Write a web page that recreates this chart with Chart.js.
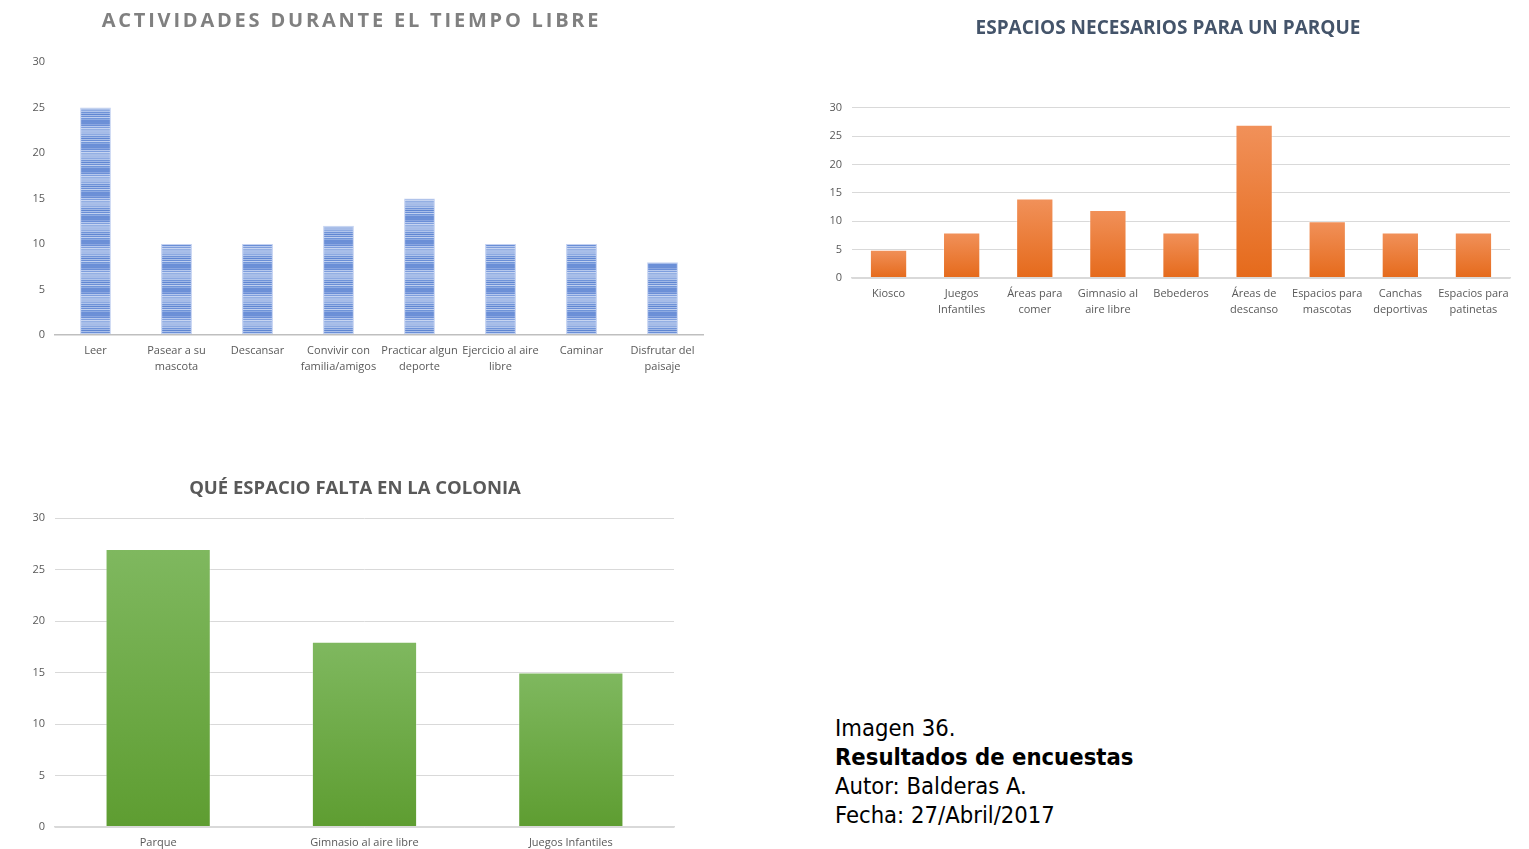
<!DOCTYPE html>
<html>
<head>
<meta charset="utf-8">
<script src="https://cdn.jsdelivr.net/npm/chart.js@4.4.1/dist/chart.umd.min.js"></script>
<style>
  body { margin: 0; background: #fff; width: 1529px; height: 849px; overflow: hidden; position: relative; }
  canvas { position: absolute; }
  #c1 { left: 0; top: 0; }
  #c2 { left: 800px; top: 0; }
  #c3 { left: 0; top: 471px; }
  #caption { position: absolute; left: 835px; top: 714px; font-family: "DejaVu Sans Condensed", "DejaVu Sans", sans-serif; font-size: 23.6px; line-height: 29px; color: #000; }
  #caption b { font-weight: bold; }
</style>
</head>
<body>
<canvas id="c1" width="705" height="400"></canvas>
<canvas id="c2" width="720" height="330"></canvas>
<canvas id="c3" width="690" height="378"></canvas>
<div id="caption">
  Imagen 36.<br>
  <b>Resultados de encuestas</b><br>
  Autor: Balderas A.<br>
  Fecha: 27/Abril/2017
</div>
<script>
// datos de las encuestas
const actividades = ['Leer', ['Pasear a su', 'mascota'], 'Descansar', ['Convivir con', 'familia/amigos'],
  ['Practicar algun', 'deporte'], ['Ejercicio al aire', 'libre'], 'Caminar', ['Disfrutar del', 'paisaje']];
const actividadesVotos = [25, 10, 10, 12, 15, 10, 10, 8];

const espacios = ['Kiosco', ['Juegos', 'Infantiles'], ['Áreas para', 'comer'], ['Gimnasio al', 'aire libre'],
  'Bebederos', ['Áreas de', 'descanso'], ['Espacios para', 'mascotas'], ['Canchas', 'deportivas'], ['Espacios para', 'patinetas']];
const espaciosVotos = [5, 8, 14, 12, 8, 27, 10, 8, 8];

const faltantes = ['Parque', 'Gimnasio al aire libre', 'Juegos Infantiles'];
const faltantesVotos = [27, 18, 15];

const yTicks = [0, 5, 10, 15, 20, 25, 30];

const tickFont = { family: 'Open Sans', size: 11, lineHeight: 1.45 };
const tickColor = '#595959';

// patron de rayas azules
function stripePattern(ctx) {
  const rows = ['#6b8fd7', '#6b8fd7', '#6d91d7', '#6b8fd7', '#8aa6e0', '#6b8fd7', '#b7c9ee', '#7e9edd',
    '#c6d4f1', '#93afe3', '#a7bde8', '#a9bfe9', '#a5bbe7', '#a7bde8', '#8ca9e1', '#b1c5ec',
    '#6f93d8', '#9fb7e6', '#5f86d2', '#a9bfe9', '#6a8ed6', '#c0d0f0', '#7095d9', '#8eabe2'];
  const p = document.createElement('canvas');
  p.width = 4; p.height = rows.length;
  const pc = p.getContext('2d');
  rows.forEach((c, i) => { pc.fillStyle = c; pc.fillRect(0, i, 4, 1); });
  return ctx.createPattern(p, 'repeat');
}

function barGradient(top, bottom) {
  return function (context) {
    const chart = context.chart;
    const y = chart.scales.y;
    if (!chart.chartArea || !y || context.raw == null) return bottom;
    const y0 = y.getPixelForValue(context.raw);
    const y1 = y.getPixelForValue(0);
    const g = chart.ctx.createLinearGradient(0, y0, 0, y1);
    g.addColorStop(0, top);
    g.addColorStop(1, bottom);
    return g;
  };
}

function yScale(width, grid) {
  return {
    min: 0, max: 30,
    afterBuildTicks: s => { s.ticks = yTicks.map(v => ({ value: v })); },
    afterFit: s => { s.width = width; },
    ticks: { color: tickColor, font: { family: 'Open Sans', size: 11 }, padding: 10, z: 1 },
    grid: { display: grid, color: '#d9d9d9', drawTicks: false, z: -1 },
    border: { display: false, z: 1 }
  };
}

function xScale(height, axisColor) {
  return {
    afterFit: s => { s.height = height; },
    ticks: { color: tickColor, font: tickFont, maxRotation: 0, autoSkip: false, padding: 8, z: 1 },
    grid: { display: false, drawTicks: false },
    border: { display: true, color: axisColor, width: 1.5, z: 1 }
  };
}

// espaciado de letras solo para el titulo
const tituloEspaciado = {
  id: 'tituloEspaciado',
  beforeDraw(chart, args, opts) { chart.ctx.letterSpacing = opts.spacing || '0px'; },
  beforeDatasetsDraw(chart) { chart.ctx.letterSpacing = '0px'; },
  afterDraw(chart) { chart.ctx.letterSpacing = '0px'; }
};

Chart.defaults.animation = false;

const c1 = document.getElementById('c1');
new Chart(c1, {
  type: 'bar',
  plugins: [tituloEspaciado],
  data: {
    labels: actividades,
    datasets: [{
      data: actividadesVotos,
      backgroundColor: stripePattern(c1.getContext('2d')),
      borderColor: 'rgba(190,205,240,0.9)',
      borderWidth: 1,
      barPercentage: 0.76,
      categoryPercentage: 0.5
    }]
  },
  options: {
    responsive: false,
    layout: { padding: { left: 0, right: 2, top: 0, bottom: 0 } },
    plugins: {
      legend: { display: false },
      tooltip: { enabled: false },
      tituloEspaciado: { spacing: '2.8px' },
      title: {
        display: true,
        text: 'ACTIVIDADES DURANTE EL TIEMPO LIBRE',
        color: '#808080',
        font: { family: 'Open Sans', size: 20, weight: 'bold' },
        padding: { top: 9, bottom: 29 }
      }
    },
    scales: { x: xScale(65, '#bfbfbf'), y: yScale(55, false) }
  }
});

new Chart(document.getElementById('c2'), {
  type: 'bar',
  data: {
    labels: espacios,
    datasets: [{
      data: espaciosVotos,
      backgroundColor: barGradient('#f1915a', '#e56a1b'),
      borderColor: 'rgba(255,255,255,0.35)',
      borderWidth: 1,
      barPercentage: 1,
      categoryPercentage: 0.51
    }]
  },
  options: {
    responsive: false,
    layout: { padding: { left: 26, right: 10, top: 0, bottom: 0 } },
    plugins: {
      legend: { display: false },
      tooltip: { enabled: false },
      title: {
        display: true,
        text: 'ESPACIOS NECESARIOS PARA UN PARQUE',
        color: '#44546a',
        font: { family: 'Open Sans', size: 19, weight: 'bold' },
        padding: { top: 17, bottom: 68 }
      }
    },
    scales: { x: xScale(52, '#d9d9d9'), y: yScale(26, true) }
  }
});

// eje derecho vacio: solo reserva espacio para centrar el titulo
const ejeVacio = {
  position: 'right', min: 0, max: 30,
  afterFit: s => { s.width = 9; },
  ticks: { display: false },
  grid: { display: false, drawTicks: false },
  border: { display: false }
};

new Chart(document.getElementById('c3'), {
  type: 'bar',
  data: {
    labels: faltantes,
    datasets: [{
      data: faltantesVotos,
      backgroundColor: barGradient('#7fb85f', '#5e9d31'),
      borderColor: 'rgba(255,255,255,0.35)',
      borderWidth: 1,
      barPercentage: 1,
      categoryPercentage: 0.51
    }]
  },
  options: {
    responsive: false,
    layout: { padding: { left: 27, right: 7, top: 0, bottom: 0 } },
    plugins: {
      legend: { display: false },
      tooltip: { enabled: false },
      title: {
        display: true,
        text: 'QUÉ ESPACIO FALTA EN LA COLONIA',
        color: '#595959',
        font: { family: 'Open Sans', size: 18.5, weight: 'bold' },
        padding: { top: 7, bottom: 18 }
      }
    },
    scales: { x: xScale(22, '#d9d9d9'), y: yScale(28, true), y2: ejeVacio }
  }
});
</script>
</body>
</html>
